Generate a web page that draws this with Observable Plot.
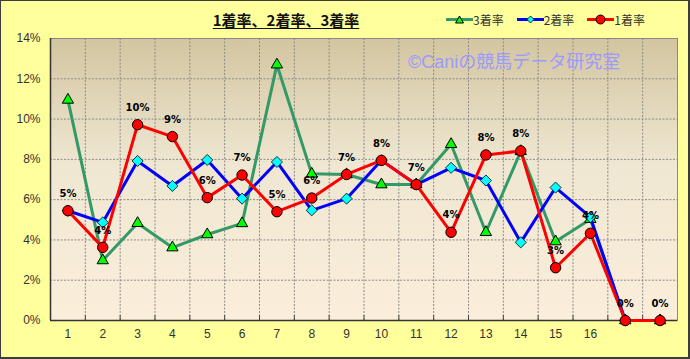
<!DOCTYPE html>
<html><head><meta charset="utf-8">
<script src="https://cdn.jsdelivr.net/npm/d3@7"></script>
<script src="https://cdn.jsdelivr.net/npm/@observablehq/plot@0.6"></script>
<style>
body{margin:0;background:#fff}
#wrap{position:relative;width:690px;height:359px;background:#FFFF9C;overflow:hidden}
#wrap svg.chart{position:absolute;left:0;top:0}
#border{position:absolute;left:0;top:0;width:690px;height:359px;box-sizing:border-box;border-style:solid;border-color:#3c3c3c;border-width:1px 2px 2px 1px;pointer-events:none}
#title{position:absolute;left:206px;top:9px;width:160px;text-align:center;font:bold 15px "Noto Sans CJK JP",sans-serif;color:#111;text-decoration:underline;text-underline-offset:2px;letter-spacing:0px;white-space:nowrap}
#legend{position:absolute;left:446px;top:11px;font:12px "Noto Sans CJK JP",sans-serif;color:#333;white-space:nowrap;display:flex;align-items:center}
#legend .item{display:flex;align-items:center;margin-right:13px}
#legend svg{display:block}
#wm{position:absolute;left:408px;top:47px;font:18px "Liberation Sans","Noto Sans CJK JP",sans-serif;color:#9A9AFF;white-space:nowrap}
</style></head><body><div id="wrap"></div><script>
const categories = [1,2,3,4,5,6,7,8,9,10,11,12,13,14,15,16,17,18];
const tickLabels = ["1","2","3","4","5","6","7","8","9","10","11","12","13","14","15","16","",""];
const rate1 = [5.45,3.63,9.72,9.13,6.1,7.22,5.4,6.08,7.25,7.95,6.75,4.38,8.22,8.42,2.62,4.33,0,0];
const rate2 = [5.45,4.87,7.92,6.68,7.97,6.05,7.87,5.47,6.05,7.95,6.75,7.58,6.95,3.88,6.6,5.13,0,0];
const rate3 = [10.95,2.98,4.83,3.62,4.27,4.82,12.7,7.28,7.25,6.75,6.75,8.75,4.38,8.4,3.92,5.03,0,0];
const yTicks = [0,2,4,6,8,10,12,14];
const seriesNames = ["3着率","2着率","1着率"];
const seriesColors = ["#339966","#0000FF","#FF0000"];
const markerFills = ["#00FF00","#00FFFF","#FF0000"];
const markerSymbols = ["triangle","diamond2","circle"];
const titleText = "1着率、2着率、3着率";
const watermark = "©Caniの競馬データ研究室";

const rows = (vals) => categories.map((c,i)=>({x:c, v:vals[i]}));
const r1 = rows(rate1), r2 = rows(rate2), r3 = rows(rate3);
const boundaries = categories.slice(0,-1).map(d=>d+0.5);

const plot = Plot.plot({
  width: 690, height: 359,
  marginLeft: 50, marginRight: 13, marginTop: 38, marginBottom: 39,
  className: "chart",
  style: {background:"transparent", fontFamily:"Liberation Sans, sans-serif", fontSize:"12px", color:"#333"},
  x: {domain:[0.5, categories.length+0.5], ticks: categories, tickFormat: d=>tickLabels[d-1], tickSize:0, tickPadding:9, label:null},
  y: {domain:[0,14], ticks: yTicks, tickFormat: d=>d+"%", tickSize:0, tickPadding:10, label:null},
  marks: [
    Plot.frame({fill:"url(#bgGrad)", stroke:"none"}),
    Plot.ruleY(yTicks.filter(d=>d>0 && d<14), {stroke:"#8a8a8a", strokeDasharray:"2,1.5", strokeWidth:1}),
    Plot.ruleX(boundaries, {stroke:"#8a8a8a", strokeDasharray:"2,1.5", strokeWidth:1}),
    Plot.ruleX(boundaries, {y1:0, y2:0.25, stroke:"#444"}),
    Plot.frame({stroke:"#888"}),
    Plot.ruleY([0], {stroke:"#333", strokeWidth:1.5}),
    Plot.ruleX([0.5], {stroke:"#333", strokeWidth:1.5}),
    Plot.line(r3, {x:"x", y:"v", stroke:seriesColors[0], strokeWidth:3}),
    Plot.dot(r3, {x:"x", y:"v", symbol:markerSymbols[0], r:4.2, fill:markerFills[0], stroke:"#000", strokeWidth:1}),
    Plot.line(r2, {x:"x", y:"v", stroke:seriesColors[1], strokeWidth:3}),
    Plot.dot(r2, {x:"x", y:"v", symbol:markerSymbols[1], r:5, fill:markerFills[1], stroke:"#000", strokeWidth:0.8}),
    Plot.line(r1, {x:"x", y:"v", stroke:seriesColors[2], strokeWidth:3}),
    Plot.dot(r1, {x:"x", y:"v", symbol:markerSymbols[2], r:5.2, fill:markerFills[2], stroke:"#000", strokeWidth:1}),
    Plot.text(r1, {x:"x", y:"v", text:d=>Math.round(d.v)+"%", dy:-17, fontWeight:"bold", fontSize:10, fill:"#000", fontFamily:"DejaVu Sans, sans-serif"})
  ]
});
const ns = "http://www.w3.org/2000/svg";
const defs = document.createElementNS(ns,"defs");
defs.innerHTML = '<linearGradient id="bgGrad" x1="0" y1="0" x2="0" y2="1">'+
  '<stop offset="0" stop-color="#D3C5A0"/><stop offset="0.45" stop-color="#EFE7D2"/><stop offset="1" stop-color="#FBEEDB"/></linearGradient>';
plot.insertBefore(defs, plot.firstChild);

const wrap = document.getElementById("wrap");
wrap.appendChild(plot);

const wm = document.createElement("div"); wm.id="wm"; wm.textContent = watermark; wrap.appendChild(wm);
const title = document.createElement("div"); title.id="title"; title.textContent = titleText; wrap.appendChild(title);

const legend = document.createElement("div"); legend.id="legend";
seriesNames.forEach((name,i)=>{
  const it = document.createElement("div"); it.className="item";
  let marker;
  if (markerSymbols[i]==="triangle") marker = '<path d="M13.5,5 L17.5,12 L9.5,12 Z" fill="'+markerFills[i]+'" stroke="#000" stroke-width="1"/>';
  else if (markerSymbols[i]==="diamond2") marker = '<path d="M13.5,5 L17,8.5 L13.5,12 L10,8.5 Z" fill="'+markerFills[i]+'" stroke="#000" stroke-width="0.8"/>';
  else marker = '<circle cx="13.5" cy="8.5" r="4.5" fill="'+markerFills[i]+'" stroke="#000" stroke-width="1"/>';
  it.innerHTML = '<svg width="27" height="17"><line x1="0" x2="27" y1="8.5" y2="8.5" stroke="'+seriesColors[i]+'" stroke-width="3"/>'+marker+'</svg><span>'+name+'</span>';
  legend.appendChild(it);
});
wrap.appendChild(legend);
const border = document.createElement("div"); border.id="border"; wrap.appendChild(border);
</script></body></html>
